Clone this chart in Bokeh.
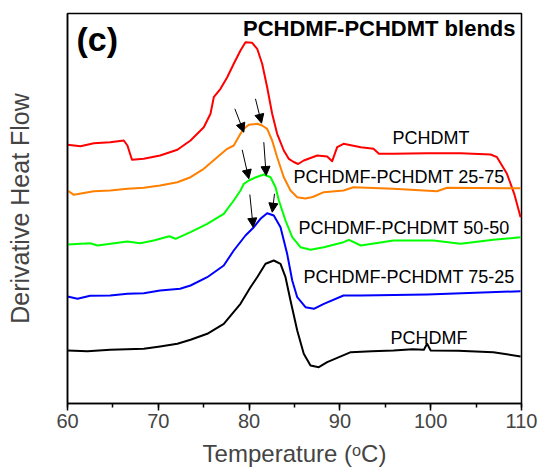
from bokeh.plotting import figure
from bokeh.models import Range1d, SingleIntervalTicker, FixedTicker, Arrow, NormalHead, Label
from bokeh.embed import file_html
from bokeh.resources import INLINE

# ---- data (temperature in °C, derivative heat flow in arbitrary units, curves offset) ----
t_pchdmt = [60.0, 61.43, 62.9, 64.7, 66.2, 66.6, 67.1, 68.4, 70.2, 72.1, 73.55, 75.01, 75.75, 76.11,
            76.85, 77.59, 78.31, 79.05, 79.60, 80.34, 80.89, 81.44, 81.99, 82.54, 83.09, 83.82,
            84.37, 84.92, 85.4, 86.02, 87.5, 88.6, 89.15, 89.7, 90.4, 92.3, 93.7, 94.3, 95.9,
            99.6, 103.3, 106.6, 107.3, 108.4, 109.2, 109.9]
y_pchdmt = [258.7, 257.3, 260.3, 261.3, 263.0, 258.0, 243.7, 244.7, 248.0, 253.7, 263.0, 276.3,
            289.7, 306.3, 314.7, 326.3, 339.7, 353.0, 361.3, 360.7, 354.7, 339.7, 316.3, 289.7,
            269.7, 253.0, 244.7, 241.5, 239.5, 243.0, 248.0, 247.0, 242.3, 256.3, 259.7, 256.3,
            254.7, 249.7, 249.7, 250.3, 250.3, 249.0, 246.3, 229.7, 209.7, 186.3]

t_2575 = [60.0, 60.7, 62.9, 64.7, 66.6, 68.4, 70.2, 72.1, 73.55, 75.01, 76.49, 77.59, 78.31, 79.05,
          79.42, 79.97, 80.89, 81.44, 81.99, 82.54, 83.09, 83.82, 84.56, 85.30, 86.2, 87.0, 88.23,
          90.4, 91.5, 95.9, 100.7, 101.8, 109.9]
y_2575 = [213.0, 208.7, 212.3, 213.0, 214.7, 215.7, 218.0, 221.3, 226.3, 234.7, 246.3, 254.7,
          258.0, 269.7, 274.7, 278.7, 279.7, 278.0, 274.7, 263.0, 246.3, 226.3, 213.0, 206.3,
          205.0, 206.5, 211.3, 213.0, 216.3, 214.7, 212.3, 215.7, 215.3]

t_5050 = [60.0, 62.5, 63.3, 66.6, 68.0, 69.5, 71.2, 71.9, 73.55, 75.39, 77.21, 78.31, 79.05, 79.42,
          79.97, 80.6, 81.62, 82.36, 82.91, 83.28, 84.01, 84.75, 85.66, 86.76, 88.23, 90.4, 91.0,
          92.3, 95.9, 100.3, 103.3, 106.9, 109.9]
y_5050 = [159.0, 160.3, 158.0, 162.0, 160.3, 163.0, 167.3, 164.7, 171.3, 179.7, 189.7, 203.0,
          213.0, 219.7, 223.0, 225.7, 229.0, 226.3, 216.3, 203.0, 183.0, 166.3, 156.3, 153.7,
          156.3, 161.3, 163.7, 158.0, 163.0, 163.0, 159.7, 163.7, 166.3]

t_7525 = [60.0, 61.1, 62.5, 64.7, 66.6, 68.4, 70.2, 72.4, 73.55, 75.39, 77.21, 78.31, 79.60, 80.52,
          81.25, 81.99, 82.72, 83.46, 84.19, 84.75, 85.30, 86.21, 87.13, 88.23, 90.4, 92.3, 99.6,
          109.9]
y_7525 = [107.0, 104.7, 107.7, 108.0, 109.7, 110.3, 113.0, 114.7, 118.0, 126.3, 138.0, 153.0,
          168.0, 176.3, 184.7, 190.3, 188.0, 176.3, 149.7, 123.0, 106.3, 96.3, 94.7, 99.7, 108.0,
          108.0, 109.0, 112.3]

t_pchdmf = [60.0, 62.2, 64.7, 68.4, 70.2, 72.1, 73.55, 75.39, 77.21, 79.05, 80.15, 80.89, 81.81,
            82.72, 83.46, 84.01, 84.56, 85.30, 86.02, 86.76, 87.68, 88.60, 91.2, 93.5, 95.9, 98.0,
            99.25, 99.6, 100.0, 103.0, 106.9, 109.9]
y_pchdmf = [53.0, 52.3, 53.7, 54.7, 57.0, 59.7, 63.7, 69.7, 79.7, 99.7, 116.3, 126.3, 139.7,
            143.0, 139.7, 126.3, 103.0, 73.0, 49.7, 38.0, 36.3, 41.3, 51.3, 52.3, 53.0, 54.3,
            53.7, 59.7, 53.0, 52.7, 51.3, 47.0]

# arrows marking shoulder/peak positions (tail T, tail y, tip T, tip y)
arrow_t0 = [78.43, 80.70, 79.24, 81.62, 80.08, 82.80]
arrow_y0 = [294.7, 304.7, 253.7, 261.3, 209.0, 209.7]
arrow_t1 = [79.42, 81.37, 79.97, 81.88, 80.45, 82.55]
arrow_y1 = [271.3, 280.3, 224.7, 228.0, 176.3, 191.3]

series_names = ["PCHDMT", "PCHDMF-PCHDMT 25-75", "PCHDMF-PCHDMT 50-50",
                "PCHDMF-PCHDMT 75-25", "PCHDMF"]
series_colors = ["#FF0000", "#FF8000", "#00FF00", "#0000FF", "#000000"]
x_ticks_interval = 10

FONT = "Liberation Sans"

p = figure(width=539, height=475, output_backend="svg", toolbar_location=None,
           x_range=Range1d(60, 110), y_range=Range1d(0, 390),
           min_border_left=67, min_border_right=18, min_border_top=13, min_border_bottom=72)
p.grid.visible = False
p.outline_line_color = "black"
p.outline_line_width = 1.5
p.background_fill_color = "white"
p.border_fill_color = "white"

# x axis
p.xaxis.ticker = SingleIntervalTicker(interval=x_ticks_interval, num_minor_ticks=2)
p.xaxis.axis_label = "Temperature (\u1d52C)"
p.xaxis.axis_label_text_font = FONT
p.xaxis.axis_label_text_font_style = "normal"
p.xaxis.axis_label_text_font_size = "24px"
p.xaxis.axis_label_standoff = 9
p.xaxis.major_label_text_font = FONT
p.xaxis.major_label_text_font_size = "20px"
p.xaxis.major_label_standoff = 3
p.xaxis.major_tick_in = 0
p.xaxis.major_tick_out = 7
p.xaxis.minor_tick_in = 0
p.xaxis.minor_tick_out = 4
p.xaxis.axis_line_width = 1.5
p.xaxis.major_tick_line_width = 1.5
p.xaxis.minor_tick_line_width = 1.5

# y axis: label only
p.yaxis.ticker = FixedTicker(ticks=[])
p.yaxis.axis_label = "Derivative Heat Flow"
p.yaxis.axis_label_text_font = FONT
p.yaxis.axis_label_text_font_style = "normal"
p.yaxis.axis_label_text_font_size = "25px"
p.yaxis.axis_label_standoff = 34
p.yaxis.axis_line_width = 1.5
p.yaxis.major_tick_line_color = None
p.yaxis.minor_tick_line_color = None

curves = [(t_pchdmt, y_pchdmt), (t_2575, y_2575), (t_5050, y_5050), (t_7525, y_7525), (t_pchdmf, y_pchdmf)]
for (tx, yy), c in zip(curves, series_colors):
    p.line(tx, yy, line_color=c, line_width=2, line_join="round")

for a0, b0, a1, b1 in zip(arrow_t0, arrow_y0, arrow_t1, arrow_y1):
    p.add_layout(Arrow(x_start=a0, y_start=b0, x_end=a1, y_end=b1, line_color="black", line_width=1,
                       end=NormalHead(size=9, fill_color="black", line_color="black", line_width=1)))

label_pos = [(95.79, 266), (84.89, 227), (85.44, 176), (85.99, 127), (95.57, 66)]
for name, (lx, ly) in zip(series_names, label_pos):
    p.add_layout(Label(x=lx, y=ly, text=name, text_font=FONT, text_font_size="18px",
                       text_align="left", text_baseline="middle", text_color="black"))

p.add_layout(Label(x=109.34, y=375, text="PCHDMF-PCHDMT blends", text_font=FONT,
                   text_font_size="22px", text_font_style="bold", text_align="right",
                   text_baseline="middle", text_color="black"))
p.add_layout(Label(x=60.99, y=365, text="(c)", text_font=FONT, text_font_size="34px",
                   text_font_style="bold", text_align="left", text_baseline="middle",
                   text_color="black"))

open("out.html", "w").write(file_html(p, INLINE))
